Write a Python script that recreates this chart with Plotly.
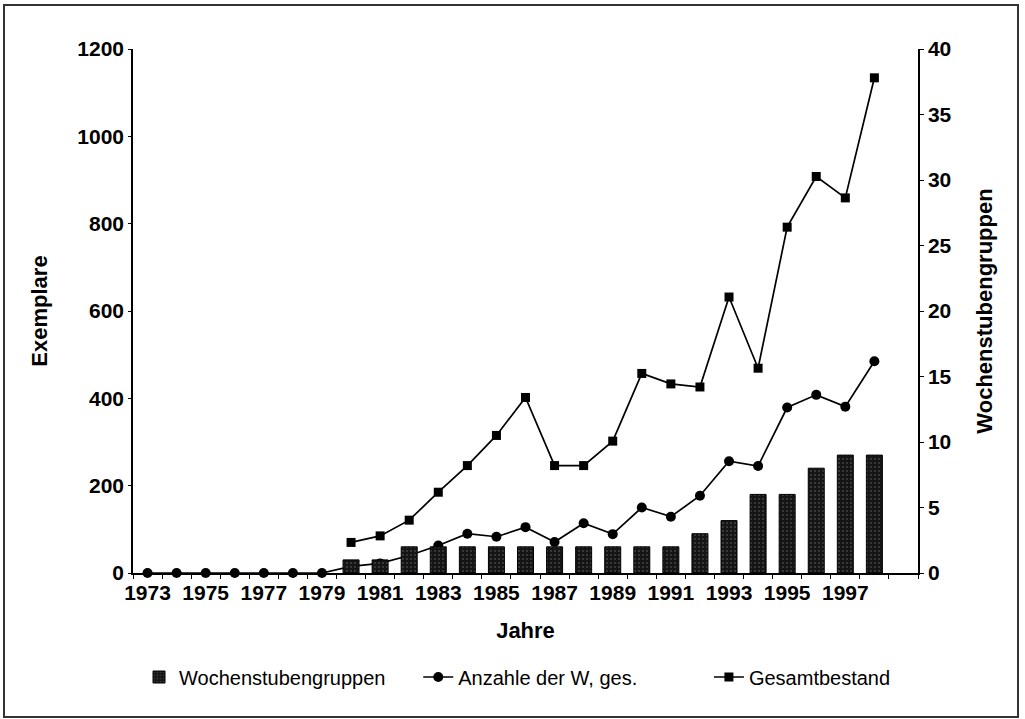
import plotly.graph_objects as go

years = list(range(1973, 1999))
wochenstuben = [0, 0, 0, 0, 0, 0, 0,
                1, 1, 2, 2, 2, 2, 2, 2, 2, 2, 2, 2, 3, 4, 6, 6, 8, 9, 9]
anzahl_w = [0, 0, 0, 0, 0, 0, 0,
            15, 22, 40, 63, 90, 83, 105, 71, 114, 89, 150, 129, 177, 256, 245, 379, 408, 381, 485]
gesamtbestand = [None, None, None, None, None, None, None,
                 70, 85, 121, 185, 246, 315, 402, 246, 246, 302, 457, 433, 426, 632, 469, 792, 908, 859, 1134]
year_labels = list(range(1973, 1998, 2))

W, H = 1025, 719
ML, MR, MT, MB = 133, 107, 49, 146
PW, PH = W - ML - MR, H - MT - MB

FONT = "Liberation Sans, Arial, sans-serif"
NB = "\u00a0"

fig = go.Figure()
fig.add_trace(go.Bar(
    x=years, y=[v if v else None for v in wochenstuben],
    name="Wochenstubengruppen" + NB * 5, yaxis="y2",
    width=0.55,
    marker=dict(color="#111111", line=dict(color="black", width=1),
                pattern=dict(shape=".", fgcolor="#bbbbbb", bgcolor="#151515", size=4, solidity=0.12)),
))
fig.add_trace(go.Scatter(
    x=years, y=anzahl_w, name="Anzahle der W, ges." + NB * 12, mode="lines+markers",
    line=dict(color="black", width=1.7), marker=dict(symbol="circle", size=10, color="black"),
    cliponaxis=False,
))
fig.add_trace(go.Scatter(
    x=years, y=gesamtbestand, name="Gesamtbestand", mode="lines+markers",
    line=dict(color="black", width=1.7), marker=dict(symbol="square", size=9, color="black"),
    cliponaxis=False,
))

tickfont = dict(family=FONT, size=21, color="black", weight="bold")
titlefont = dict(family=FONT, size=22, color="black", weight="bold")

fig.update_layout(
    width=W, height=H, autosize=False,
    margin=dict(l=ML, r=MR, t=MT, b=MB),
    paper_bgcolor="white", plot_bgcolor="white",
    bargap=0.45,
    xaxis=dict(
        range=[1972.5, 1999.5], tickmode="array", tickvals=year_labels,
        ticktext=[str(y) for y in year_labels], ticks="", tickfont=tickfont,
        showline=True, linecolor="black", linewidth=1.5, showgrid=False, zeroline=False,
        minor=dict(tick0=1972.5, dtick=1, ticks="outside", ticklen=4, tickcolor="black", showgrid=False),
        title=dict(text="Jahre", font=titlefont, standoff=20),
    ),
    yaxis=dict(
        range=[0, 1200], dtick=200, ticks="outside", ticklen=3, tickcolor="black",
        tickfont=tickfont, showline=True, linecolor="black", linewidth=1.5,
        showgrid=False, zeroline=False,
        title=dict(text="Exemplare", font=titlefont, standoff=24),
    ),
    yaxis2=dict(
        range=[0, 40], dtick=5, ticks="outside", ticklen=4, tickcolor="black",
        tickfont=tickfont, showline=True, linecolor="black", linewidth=1.5,
        showgrid=False, zeroline=False, overlaying="y", side="right",
        title=dict(text="Wochenstubengruppen", font=titlefont, standoff=26),
    ),
    legend=dict(
        orientation="h", xref="container", yref="container",
        x=139 / W, xanchor="left", y=1 - 677 / H, yanchor="middle",
        font=dict(family=FONT, size=20, color="black"),
        itemwidth=30, traceorder="normal",
    ),
    showlegend=True,
)

# outer frame around whole chart
def px2x(px):
    return (px - ML) / PW

def py2y(py):
    return (H - MB - py) / PH

fig.add_shape(type="rect", xref="paper", yref="paper",
              x0=px2x(4), x1=px2x(1018), y0=py2y(717), y1=py2y(5),
              line=dict(color="#333333", width=2), layer="above")

post = ("document.body.style.margin='0';document.body.style.padding='0';"
        "document.body.style.overflow='hidden';"
        "document.documentElement.style.overflow='hidden';")

fig.write_html("out.html", config=dict(responsive=False, displayModeBar=False), post_script=post)
